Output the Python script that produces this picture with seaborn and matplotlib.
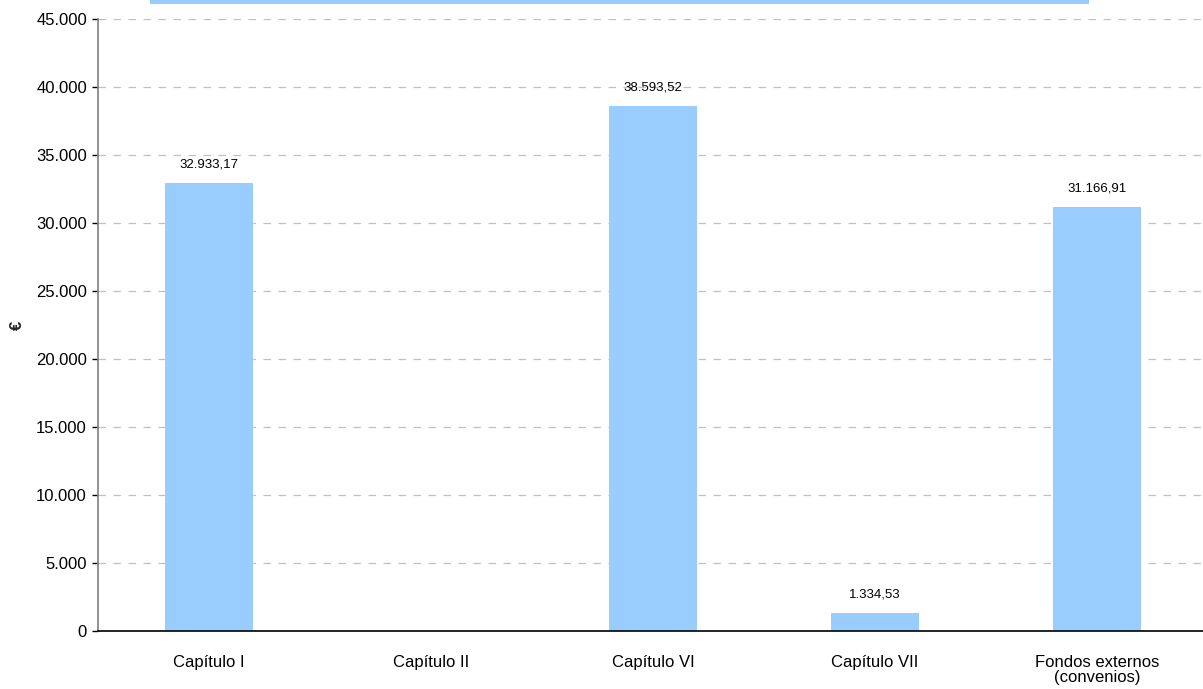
import matplotlib
matplotlib.use("Agg")
import matplotlib.pyplot as plt
import seaborn as sns
import pandas as pd
from matplotlib.patches import Rectangle

categories = ["Capítulo I", "Capítulo II", "Capítulo VI", "Capítulo VII", "Fondos externos\n(convenios)"]
values = [32933.17, 0.0, 38593.52, 1334.53, 31166.91]
yticks = list(range(0, 45001, 5000))

sns.set_theme(style="white")
plt.rcParams['font.family'] = ['Liberation Sans', 'DejaVu Sans']

W, H = 1203, 689
fig = plt.figure(figsize=(W / 100, H / 100), dpi=100)
ax = fig.add_axes([98 / W, (H - 631) / H, 1110 / W, (631 - 19) / H])

df = pd.DataFrame({"cat": categories, "val": values})
sns.barplot(data=df, x="cat", y="val", order=categories, color="#99CCFF",
            saturation=1, width=0.4, ax=ax, linewidth=0)

def fmt_es(v, dec=0):
    s = f"{v:,.{dec}f}"
    return s.replace(",", "X").replace(".", ",").replace("X", ".")

ax.set_xlim(-0.5, 4.5)
ax.set_ylim(0, 45000)
ax.set_yticks(yticks)
ax.set_yticklabels([fmt_es(t) for t in yticks], fontsize=12, color="#000000")
ax.set_xticks(range(len(categories)))
ax.set_xticklabels(categories, fontsize=12, color="#000000", linespacing=1.0)
ax.set_xticks([i - 0.5 for i in range(len(categories) + 1)], minor=True)
ax.tick_params(axis="x", which="major", length=0, pad=17)
ax.tick_params(axis="x", which="minor", length=5, width=1, color="#808080", direction="out")
ax.tick_params(axis="y", which="major", length=4, width=1, color="#000000", direction="out", pad=4, left=True)

ax.grid(axis="y", linestyle=(0, (6, 6)), color="#C0C0C0", linewidth=0.9)
ax.set_axisbelow(True)

for s in ["top", "right"]:
    ax.spines[s].set_visible(False)
ax.spines["left"].set_color("#808080")
ax.spines["left"].set_linewidth(1.2)
ax.spines["bottom"].set_color("#000000")
ax.spines["bottom"].set_linewidth(1.2)

ax.set_xlabel("")
ax.set_ylabel("€", fontsize=12, fontweight="bold", rotation=90)
ax.yaxis.set_label_coords(-0.066, 0.5)

for i, v in enumerate(values):
    if v > 0:
        ax.annotate(fmt_es(v, 2), xy=(i, v), xytext=(0, 11), textcoords="offset points",
                    ha="center", va="baseline", fontsize=9.5, color="#000000")

fig.patches.append(Rectangle((150 / W, (H - 4) / H), 939 / W, 6 / H,
                             transform=fig.transFigure, facecolor="#99CCFF",
                             edgecolor="none", zorder=5))

fig.savefig("out.png", dpi=100)
